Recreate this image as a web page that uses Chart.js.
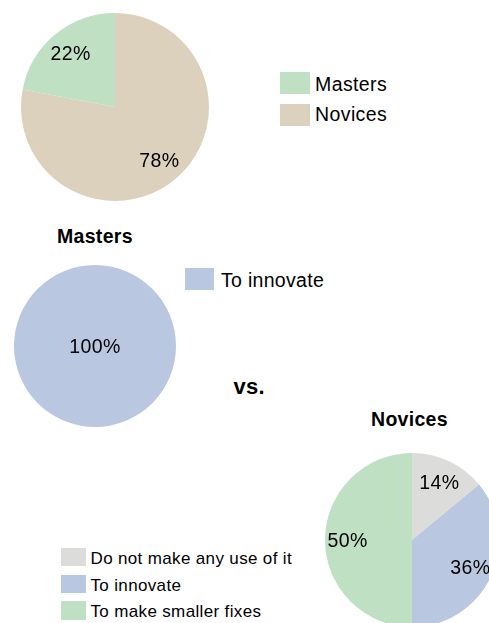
<!DOCTYPE html>
<html>
<head>
<meta charset="utf-8">
<script src="https://cdn.jsdelivr.net/npm/chart.js@4.4.1/dist/chart.umd.min.js"></script>
<style>
  html, body { margin: 0; padding: 0; background: #fff; }
  body { width: 489px; height: 623px; overflow: hidden; position: relative;
         font-family: "Liberation Sans", Arial, sans-serif; color: #000; }
  .pie { position: absolute; }
  .txt { position: absolute; white-space: nowrap; }
  .swatch { position: absolute; }
</style>
</head>
<body>
<div class="pie" id="box1" style="left:20.5px;top:12.7px;width:188px;height:188px"><canvas id="pie1"></canvas></div>
<div class="pie" id="box2" style="left:14px;top:265px;width:162px;height:162px"><canvas id="pie2"></canvas></div>
<div class="pie" id="box3" style="left:325px;top:453px;width:174px;height:174px"><canvas id="pie3"></canvas></div>

<script>
// Share of respondents by group
const groupLabels = ['Masters', 'Novices'];
const groupShares = [22, 78];
const groupColors = ['#c0e0c4', '#dcd1bd'];

// How Masters use it
const mastersLabels = ['To innovate'];
const mastersShares = [100];
const mastersColors = ['#b9c7e0'];

// How Novices use it
const novicesLabels = ['Do not make any use of it', 'To innovate', 'To make smaller fixes'];
const novicesShares = [14, 36, 50];
const novicesColors = ['#dcdddb', '#b9c7e0', '#c0e0c4'];

const FONT = '"Liberation Sans", Arial, sans-serif';

// Percentage labels drawn inside each slice
const sliceLabels = {
  id: 'sliceLabels',
  afterDatasetsDraw(chart) {
    const ctx = chart.ctx;
    const meta = chart.getDatasetMeta(0);
    const values = chart.data.datasets[0].data;
    ctx.save();
    ctx.font = '19.5px ' + FONT;
    if ('letterSpacing' in ctx) ctx.letterSpacing = '0.4px';
    ctx.fillStyle = '#000';
    ctx.textAlign = 'center';
    ctx.textBaseline = 'middle';
    meta.data.forEach((arc, i) => {
      const p = arc.getProps(['x', 'y', 'startAngle', 'endAngle', 'outerRadius'], true);
      let x = p.x, y = p.y;
      if (p.endAngle - p.startAngle < Math.PI * 2 - 1e-6) {
        const mid = (p.startAngle + p.endAngle) / 2;
        const d = p.outerRadius * 0.74;
        x += Math.cos(mid) * d;
        y += Math.sin(mid) * d;
      }
      ctx.fillText(values[i] + '%', x, y + 1.5);
    });
    ctx.restore();
  }
};

function makePie(id, labels, values, colors) {
  return new Chart(document.getElementById(id), {
    type: 'pie',
    data: {
      labels: labels,
      datasets: [{ data: values, backgroundColor: colors, borderWidth: 0, hoverOffset: 0 }]
    },
    options: {
      responsive: true,
      maintainAspectRatio: false,
      animation: false,
      events: [],
      layout: { padding: 0 },
      plugins: { legend: { display: false }, tooltip: { enabled: false } }
    },
    plugins: [sliceLabels]
  });
}

// Group split: Masters slice sits just before 12 o'clock, so draw Novices first
makePie('pie1', groupLabels.slice().reverse(), groupShares.slice().reverse(), groupColors.slice().reverse());
makePie('pie2', mastersLabels, mastersShares, mastersColors);
makePie('pie3', novicesLabels, novicesShares, novicesColors);

// Text helpers: place a line by its baseline
function addText(str, left, baseline, size, bold, spacing) {
  const el = document.createElement('div');
  el.className = 'txt';
  el.textContent = str;
  el.style.fontSize = size + 'px';
  el.style.lineHeight = size + 'px';
  el.style.fontWeight = bold ? 'bold' : 'normal';
  el.style.letterSpacing = (spacing || 0) + 'px';
  el.style.left = left + 'px';
  el.style.top = (baseline - 0.8465 * size) + 'px';
  document.body.appendChild(el);
}
function addSwatch(color, left, top, w, h) {
  const el = document.createElement('div');
  el.className = 'swatch';
  el.style.background = color;
  el.style.left = left + 'px';
  el.style.top = top + 'px';
  el.style.width = w + 'px';
  el.style.height = h + 'px';
  document.body.appendChild(el);
}

// Legend for the group split
groupLabels.forEach((lab, i) => {
  addSwatch(groupColors[i], 279.5, 72.3 + i * 31.5, 30, 22);
  addText(lab, 315, 91.7 + i * 30.2, 19.5, false, 0.4);
});

// Masters block
addText('Masters', 57, 243.5, 19.5, true, 0.3);
mastersLabels.forEach((lab, i) => {
  addSwatch(mastersColors[i], 185, 268.3, 28.5, 22);
  addText(lab, 221, 288, 19.5, false, 0.3);
});

addText('vs.', 233.5, 395, 22, true, 0.3);

// Novices block
addText('Novices', 371, 427, 19.5, true, 0.3);
const novBase = [564, 591, 617];
const novTop = [547.7, 574.5, 601];
novicesLabels.forEach((lab, i) => {
  addSwatch(novicesColors[i], 61, novTop[i], 24.7, 18.5);
  addText(lab, 90.5, novBase[i], 17, false, 0.35);
});
</script>
</body>
</html>
